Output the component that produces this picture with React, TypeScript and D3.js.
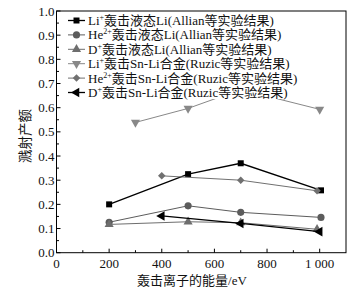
import React from "react";
import * as d3 from "d3";

const W = 351;
const H = 290;

const xTicks = [0, 200, 400, 600, 800, 1000];
const xTickLabels = ["0", "200", "400", "600", "800", "1 000"];
const yTicks = [0, 0.1, 0.2, 0.3, 0.4, 0.5, 0.6, 0.7, 0.8, 0.9, 1.0];

const liLiquidX = [200, 500, 700, 1005];
const liLiquidY = [0.2, 0.325, 0.37, 0.258];
const heLiquidX = [200, 500, 700, 1005];
const heLiquidY = [0.126, 0.194, 0.167, 0.146];
const dLiquidX = [200, 500, 700, 990];
const dLiquidY = [0.117, 0.128, 0.124, 0.097];
const liSnX = [300, 500, 700, 1000];
const liSnY = [0.539, 0.597, 0.675, 0.593];
const heSnX = [400, 700, 990];
const heSnY = [0.318, 0.3, 0.256];
const dSnX = [400, 700, 1000];
const dSnY = [0.152, 0.121, 0.087];

type Series = {
  ion: string;
  sup: string;
  rest: string;
  xs: number[];
  ys: number[];
  color: string;
  width: number;
  symbol: d3.SymbolType;
  size: number;
  rotate: number;
};

const series: Series[] = [
  { ion: "Li", sup: "+", rest: "轰击液态Li(Allian等实验结果)", xs: liLiquidX, ys: liLiquidY, color: "#000", width: 1.3, symbol: d3.symbolSquare, size: 36, rotate: 0 },
  { ion: "He", sup: "2+", rest: "轰击液态Li(Allian等实验结果)", xs: heLiquidX, ys: heLiquidY, color: "#5c5c5c", width: 1, symbol: d3.symbolCircle, size: 40, rotate: 0 },
  { ion: "D", sup: "+", rest: "轰击液态Li(Allian等实验结果)", xs: dLiquidX, ys: dLiquidY, color: "#6e6e6e", width: 1, symbol: d3.symbolTriangle, size: 36, rotate: 0 },
  { ion: "Li", sup: "+", rest: "轰击Sn-Li合金(Ruzic等实验结果)", xs: liSnX, ys: liSnY, color: "#888", width: 1, symbol: d3.symbolTriangle, size: 36, rotate: 180 },
  { ion: "He", sup: "2+", rest: "轰击Sn-Li合金(Ruzic等实验结果)", xs: heSnX, ys: heSnY, color: "#707070", width: 1, symbol: d3.symbolSquare, size: 28, rotate: 45 },
  { ion: "D", sup: "+", rest: "轰击Sn-Li合金(Ruzic等实验结果)", xs: dSnX, ys: dSnY, color: "#000", width: 1.3, symbol: d3.symbolTriangle, size: 40, rotate: -90 },
];

const FONT = '"Liberation Serif", "Noto Sans CJK SC", serif';

export default function App() {
  const x = d3.scaleLinear().domain([0, 1100]).range([56.5, 346]);
  const y = d3.scaleLinear().domain([0, 1]).range([252.7, 11]);
  const line = d3.line<[number, number]>().x((d) => x(d[0])).y((d) => y(d[1]));
  const minorX = d3.range(100, 1100, 200);
  const minorY = d3.range(0.05, 1, 0.1);

  const legendX0 = 68;
  const legendY0 = 20.5;
  const legendDy = 14.4;

  return (
    <div style={{ position: "absolute", left: 0, top: 0 }}>
      <svg width={W} height={H} style={{ display: "block", background: "#fff", fontFamily: FONT }}>
        <rect x={0} y={0} width={W} height={H} fill="#fff" />
        {series.map((s, i) => {
          const pts = s.xs.map((v, j) => [v, s.ys[j]] as [number, number]);
          const sym = d3.symbol().type(s.symbol).size(s.size)()!;
          return (
            <g key={i}>
              <path d={line(pts)!} fill="none" stroke={s.color} strokeWidth={s.width} />
              {pts.map((p, j) => (
                <path key={j} d={sym} fill={s.color} transform={`translate(${x(p[0])},${y(p[1])}) rotate(${s.rotate})`} />
              ))}
            </g>
          );
        })}
        <rect x={64} y={12} width={236} height={87} fill="#fff" />
        {series.map((s, i) => {
          const cy = legendY0 + i * legendDy;
          const sym = d3.symbol().type(s.symbol).size(s.size)()!;
          return (
            <g key={"l" + i}>
              <line x1={legendX0} x2={legendX0 + 17} y1={cy} y2={cy} stroke={s.color} strokeWidth={s.width} />
              <path d={sym} fill={s.color} transform={`translate(${legendX0 + 8.5},${cy}) rotate(${s.rotate})`} />
              <text x={legendX0 + 20} y={cy + 4.5} fontSize={13} fill="#111">
                {s.ion}
                <tspan fontSize={8} dy={-5}>{s.sup}</tspan>
                <tspan dy={5}>{s.rest}</tspan>
              </text>
            </g>
          );
        })}
        <rect x={x(0)} y={y(1)} width={x(1100) - x(0)} height={y(0) - y(1)} fill="none" stroke="#000" strokeWidth={1} />
        {xTicks.map((t, i) => (
          <g key={"xt" + i}>
            <line x1={x(t)} x2={x(t)} y1={y(0)} y2={y(0) - 4} stroke="#000" />
            <text x={x(t)} y={y(0) + 15} fontSize={13} textAnchor="middle" fill="#111">{xTickLabels[i]}</text>
          </g>
        ))}
        {minorX.map((t, i) => (
          <line key={"xm" + i} x1={x(t)} x2={x(t)} y1={y(0)} y2={y(0) - 2.5} stroke="#000" />
        ))}
        {yTicks.map((t, i) => (
          <g key={"yt" + i}>
            <line x1={x(0)} x2={x(0) + 4} y1={y(t)} y2={y(t)} stroke="#000" />
            <text x={x(0) - 2} y={y(t) + 4.5} fontSize={13} textAnchor="end" fill="#111">{t.toFixed(1)}</text>
          </g>
        ))}
        {minorY.map((t, i) => (
          <line key={"ym" + i} x1={x(0)} x2={x(0) + 2.5} y1={y(t)} y2={y(t)} stroke="#000" />
        ))}
        <text x={192} y={285} fontSize={13} textAnchor="middle" fill="#111">轰击离子的能量/eV</text>
        <text transform="translate(30,136) rotate(-90)" fontSize={13.5} textAnchor="middle" fill="#111">溅射产额</text>
      </svg>
    </div>
  );
}
